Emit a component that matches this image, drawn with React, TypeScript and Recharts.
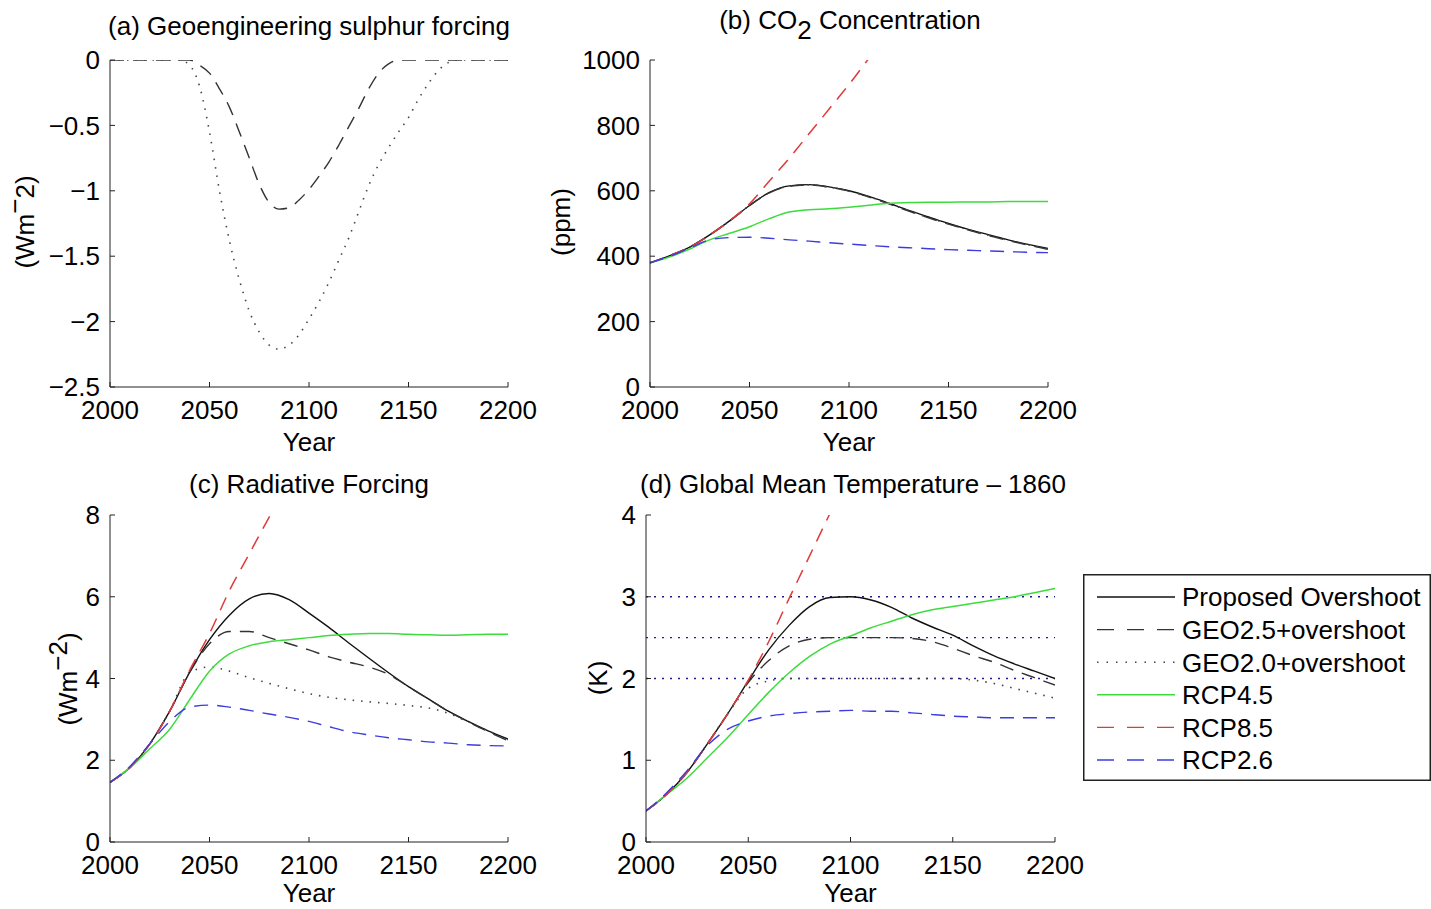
import React from 'react';
import { LineChart, Line, XAxis, YAxis, ReferenceLine } from 'recharts';

const FONT = '"Liberation Sans", Arial, Helvetica, sans-serif';
const FS = 26;

// ---- (a) geoengineering sulphur forcing, 5-year steps
const YEARS_A = [
  2000, 2005, 2010, 2015, 2020, 2025, 2030, 2035, 2040, 2045, 2050, 2055, 2060, 2065,
  2070, 2075, 2080, 2085, 2090, 2095, 2100, 2105, 2110, 2115, 2120, 2125, 2130, 2135,
  2140, 2145, 2150, 2155, 2160, 2165, 2170, 2175, 2180, 2185, 2190, 2195, 2200,
];
const GEO25_A = [
  0, 0, 0, 0, 0, 0, 0, 0, 0, -0.04, -0.1, -0.22, -0.36, -0.55,
  -0.75, -0.95, -1.09, -1.14, -1.13, -1.07, -0.99, -0.89, -0.78, -0.65, -0.51, -0.37, -0.22, -0.1,
  -0.03, 0, 0, 0, 0, 0, 0, 0, 0, 0, 0, 0, 0,
];
const GEO20_A = [
  0, 0, 0, 0, 0, 0, 0, 0, -0.04, -0.2, -0.55, -1.0, -1.38, -1.68,
  -1.92, -2.08, -2.18, -2.21, -2.18, -2.1, -1.98, -1.85, -1.7, -1.53, -1.36, -1.16, -0.96, -0.8,
  -0.67, -0.55, -0.44, -0.3, -0.18, -0.08, -0.02, 0, 0, 0, 0, 0, 0,
];

// ---- (b)-(d), 10-year steps
const YEARS = [
  2000, 2010, 2020, 2030, 2040, 2050, 2060, 2070, 2080, 2090, 2100,
  2110, 2120, 2130, 2140, 2150, 2160, 2170, 2180, 2190, 2200,
];

// (b) CO2 concentration (ppm)
const PO_B = [380, 402, 428, 465, 508, 555, 595, 615, 619, 612, 600, 583, 562, 540, 520, 500, 482, 466, 450, 436, 424];
const GEO25_B = [380, 402, 428, 465, 508, 555, 594, 614, 618, 611, 599, 581, 560, 538, 517, 498, 480, 463, 448, 434, 421];
const GEO20_B = [380, 402, 428, 465, 508, 555, 594, 614, 618, 611, 599, 582, 561, 539, 518, 499, 481, 464, 449, 435, 422];
const RCP45_B = [380, 398, 422, 450, 470, 490, 515, 535, 542, 545, 550, 556, 562, 564, 565, 565, 566, 566, 567, 567, 567];
const RCP85_B = [380, 402, 428, 465, 508, 560, 630, 700, 775, 850, 925, 1005, 1080, null, null, null, null, null, null, null, null];
const RCP26_B = [380, 400, 425, 450, 457, 458, 455, 450, 446, 441, 437, 433, 429, 426, 423, 420, 418, 416, 414, 412, 411];

// (c) radiative forcing (W m-2)
const PO_C = [1.46, 1.82, 2.4, 3.2, 4.15, 4.95, 5.55, 5.95, 6.08, 5.93, 5.6, 5.25, 4.87, 4.5, 4.14, 3.8, 3.5, 3.2, 2.95, 2.72, 2.52];
const GEO25_C = [1.46, 1.82, 2.4, 3.2, 4.15, 4.85, 5.15, 5.15, 5.0, 4.85, 4.7, 4.53, 4.4, 4.28, 4.1, 3.8, 3.5, 3.2, 2.94, 2.7, 2.48];
const GEO20_C = [1.46, 1.82, 2.4, 3.2, 4.15, 4.28, 4.18, 4.02, 3.88, 3.75, 3.63, 3.54, 3.48, 3.43, 3.39, 3.34, 3.28, 3.15, 2.94, 2.72, 2.5];
const RCP45_C = [1.46, 1.82, 2.28, 2.76, 3.48, 4.18, 4.6, 4.8, 4.9, 4.95, 5.0, 5.05, 5.08, 5.1, 5.1, 5.08, 5.07, 5.06, 5.07, 5.08, 5.08];
const RCP85_C = [1.46, 1.82, 2.4, 3.2, 4.2, 5.1, 6.15, 7.05, 7.95, 8.8, null, null, null, null, null, null, null, null, null, null, null];
const RCP26_C = [1.46, 1.85, 2.4, 2.95, 3.3, 3.35, 3.3, 3.22, 3.13, 3.05, 2.95, 2.82, 2.7, 2.62, 2.55, 2.5, 2.45, 2.42, 2.38, 2.36, 2.35];

// (d) global mean temperature - 1860 (K)
const PO_D = [0.38, 0.58, 0.85, 1.2, 1.57, 1.97, 2.35, 2.65, 2.88, 2.99, 3.0, 2.96, 2.87, 2.74, 2.63, 2.53, 2.4, 2.28, 2.18, 2.09, 2.0];
const GEO25_D = [0.38, 0.58, 0.85, 1.2, 1.57, 1.95, 2.22, 2.4, 2.48, 2.5, 2.5, 2.5, 2.5, 2.49, 2.45, 2.37, 2.28, 2.2, 2.1, 2.01, 1.92];
const GEO20_D = [0.38, 0.58, 0.85, 1.2, 1.57, 1.88, 1.97, 2.0, 2.0, 2.0, 2.0, 2.0, 2.0, 2.0, 2.0, 2.0, 1.98, 1.94, 1.88, 1.82, 1.76];
const RCP45_D = [0.38, 0.58, 0.78, 1.03, 1.28, 1.56, 1.83, 2.07, 2.27, 2.42, 2.52, 2.62, 2.7, 2.78, 2.84, 2.88, 2.92, 2.96, 3.0, 3.05, 3.1];
const RCP85_D = [0.38, 0.58, 0.85, 1.2, 1.57, 1.98, 2.45, 2.98, 3.5, 4.02, 4.5, null, null, null, null, null, null, null, null, null, null];
const RCP26_D = [0.38, 0.6, 0.87, 1.18, 1.38, 1.48, 1.54, 1.57, 1.59, 1.6, 1.61, 1.6, 1.6, 1.58, 1.56, 1.54, 1.53, 1.52, 1.52, 1.52, 1.52];
const TEMP_TARGETS = [2, 2.5, 3];

const X_TICKS = [2000, 2050, 2100, 2150, 2200];
const Y_TICKS_A = [-2.5, -2, -1.5, -1, -0.5, 0];
const Y_TICKS_B = [0, 200, 400, 600, 800, 1000];
const Y_TICKS_C = [0, 2, 4, 6, 8];
const Y_TICKS_D = [0, 1, 2, 3, 4];

type Key = 'po' | 'geo25' | 'geo20' | 'rcp45' | 'rcp85' | 'rcp26';

const SERIES: { key: Key; label: string; color: string; dash?: string; width: number; legendDash?: string }[] = [
  { key: 'po', label: 'Proposed Overshoot', color: '#111111', width: 1.4 },
  { key: 'geo25', label: 'GEO2.5+overshoot', color: '#333333', dash: '14 9', width: 1.4, legendDash: '17 13' },
  { key: 'geo20', label: 'GEO2.0+overshoot', color: '#444444', dash: '1.5 7', width: 1.6, legendDash: '1.5 8' },
  { key: 'rcp45', label: 'RCP4.5', color: '#3ddc3d', width: 1.5 },
  { key: 'rcp85', label: 'RCP8.5', color: '#e03a3a', dash: '14 9', width: 1.5, legendDash: '17 13' },
  { key: 'rcp26', label: 'RCP2.6', color: '#3c3ce0', dash: '14 9', width: 1.4, legendDash: '17 13' },
];

const rowsA = YEARS_A.map((year, i) => ({ year, geo25: GEO25_A[i], geo20: GEO20_A[i] }));
const build = (po, geo25, geo20, rcp45, rcp85, rcp26) =>
  YEARS.map((year, i) => ({
    year,
    po: po[i],
    geo25: geo25[i],
    geo20: geo20[i],
    rcp45: rcp45[i],
    rcp85: rcp85[i],
    rcp26: rcp26[i],
  }));
const rowsB = build(PO_B, GEO25_B, GEO20_B, RCP45_B, RCP85_B, RCP26_B);
const rowsC = build(PO_C, GEO25_C, GEO20_C, RCP45_C, RCP85_C, RCP26_C);
const rowsD = build(PO_D, GEO25_D, GEO20_D, RCP45_D, RCP85_D, RCP26_D);

const fmtA = (v: number) => (v === 0 ? '0' : '\u2212' + Math.abs(v));

function Panel({ left, top, width, height, plot, rows, keys, yDomain, yTicks, yFmt, xAxisHeight, yearOffset, children }: any) {
  const margin = {
    top: plot.top - top,
    right: left + width - plot.right,
    left: 0,
    bottom: top + height - plot.bottom - xAxisHeight,
  };
  const tickStyle = { fill: '#000', fontSize: FS, fontFamily: FONT };
  return (
    <div style={{ position: 'absolute', left, top }}>
      <LineChart width={width} height={height} data={rows} margin={margin}>
        <XAxis
          dataKey="year"
          type="number"
          domain={[2000, 2200]}
          ticks={X_TICKS}
          interval={0}
          allowDataOverflow
          height={xAxisHeight}
          tickSize={-5}
          tickMargin={19}
          stroke="#222"
          tick={tickStyle}
          label={{ value: 'Year', position: 'insideBottom', offset: yearOffset, fill: '#000', fontSize: FS, fontFamily: FONT }}
        />
        <XAxis xAxisId="top" orientation="top" type="number" domain={[2000, 2200]} ticks={X_TICKS} interval={0} height={0} tickSize={-5} tick={false} stroke="#222" />
        <YAxis
          type="number"
          domain={yDomain}
          ticks={yTicks}
          interval={0}
          allowDataOverflow
          width={plot.left - left}
          tickSize={-5}
          tickMargin={15}
          tickFormatter={yFmt}
          stroke="#222"
          tick={tickStyle}
        />
        <YAxis yAxisId="right" orientation="right" type="number" domain={yDomain} ticks={yTicks} interval={0} width={0} tickSize={-5} tick={false} stroke="#222" />
        {children}
        {SERIES.filter((s) => keys.includes(s.key)).map((s) => (
          <Line
            key={s.key}
            dataKey={s.key}
            type="monotone"
            stroke={s.color}
            strokeWidth={s.width}
            strokeDasharray={s.dash}
            dot={false}
            activeDot={false}
            isAnimationActive={false}
          />
        ))}
      </LineChart>
    </div>
  );
}

const boxText = (cx: number, cy: number, rotate = false): React.CSSProperties => ({
  position: 'absolute',
  left: cx,
  top: cy,
  transform: rotate ? 'translate(-50%, -50%) rotate(-90deg)' : 'translate(-50%, -50%)',
  whiteSpace: 'nowrap',
  fontSize: FS,
  lineHeight: 1,
  color: '#000',
});

function Legend() {
  const rowGap = 32.6;
  return (
    <svg style={{ position: 'absolute', left: 1083, top: 574 }} width={348} height={207}>
      <rect x={0.75} y={0.75} width={346.5} height={205.5} fill="#fff" stroke="#222" strokeWidth={1.5} />
      {SERIES.map((s, i) => {
        const y = 23 + i * rowGap;
        return (
          <g key={s.key}>
            <line x1={14} x2={92} y1={y} y2={y} stroke={s.color} strokeWidth={1.4} strokeDasharray={s.legendDash} />
            <text x={99} y={y} dy="0.36em" fontSize={FS} fontFamily={FONT} fill="#000">
              {s.label}
            </text>
          </g>
        );
      })}
    </svg>
  );
}

export default function App() {
  return (
    <div
      style={{
        position: 'absolute',
        left: 0,
        top: 0,
        width: 1431,
        height: 909,
        overflow: 'hidden',
        background: '#fff',
        fontFamily: FONT,
      }}
    >
      <Panel
        left={0}
        top={0}
        width={540}
        height={460}
        plot={{ left: 110, right: 508, top: 60, bottom: 387 }}
        rows={rowsA}
        keys={['geo25', 'geo20']}
        yDomain={[-2.5, 0]}
        yTicks={Y_TICKS_A}
        yFmt={fmtA}
        xAxisHeight={70}
        yearOffset={6}
      />
      <Panel
        left={540}
        top={0}
        width={550}
        height={460}
        plot={{ left: 650, right: 1048, top: 60, bottom: 387 }}
        rows={rowsB}
        keys={['po', 'geo25', 'geo20', 'rcp45', 'rcp85', 'rcp26']}
        yDomain={[0, 1000]}
        yTicks={Y_TICKS_B}
        xAxisHeight={70}
        yearOffset={6}
      />
      <Panel
        left={0}
        top={460}
        width={540}
        height={449}
        plot={{ left: 110, right: 508, top: 515, bottom: 842 }}
        rows={rowsC}
        keys={['po', 'geo25', 'geo20', 'rcp45', 'rcp85', 'rcp26']}
        yDomain={[0, 8]}
        yTicks={Y_TICKS_C}
        xAxisHeight={64}
        yearOffset={4}
      />
      <Panel
        left={540}
        top={460}
        width={560}
        height={449}
        plot={{ left: 646, right: 1055, top: 515, bottom: 842 }}
        rows={rowsD}
        keys={['po', 'geo25', 'geo20', 'rcp45', 'rcp85', 'rcp26']}
        yDomain={[0, 4]}
        yTicks={Y_TICKS_D}
        xAxisHeight={64}
        yearOffset={4}
      >
        {TEMP_TARGETS.map((t) => (
          <ReferenceLine key={t} y={t} stroke="#1c1c8a" strokeWidth={1.3} strokeDasharray="2 6" />
        ))}
      </Panel>

      <div style={boxText(309, 26)}>(a) Geoengineering sulphur forcing</div>
      <div style={boxText(850, 20)}>
        (b) CO<span style={{ position: 'relative', top: 10 }}>2</span> Concentration
      </div>
      <div style={boxText(309, 484)}>(c) Radiative Forcing</div>
      <div style={boxText(853, 484)}>(d) Global Mean Temperature – 1860</div>

      <div style={boxText(25, 222, true)}>
        (Wm<span style={{ position: 'relative', top: -10 }}>−</span>2)
      </div>
      <div style={boxText(561, 222, true)}>(ppm)</div>
      <div style={boxText(68, 679, true)}>
        (Wm<span style={{ position: 'relative', top: -10 }}>−2</span>)
      </div>
      <div style={boxText(598, 678, true)}>(K)</div>

      <Legend />
    </div>
  );
}
